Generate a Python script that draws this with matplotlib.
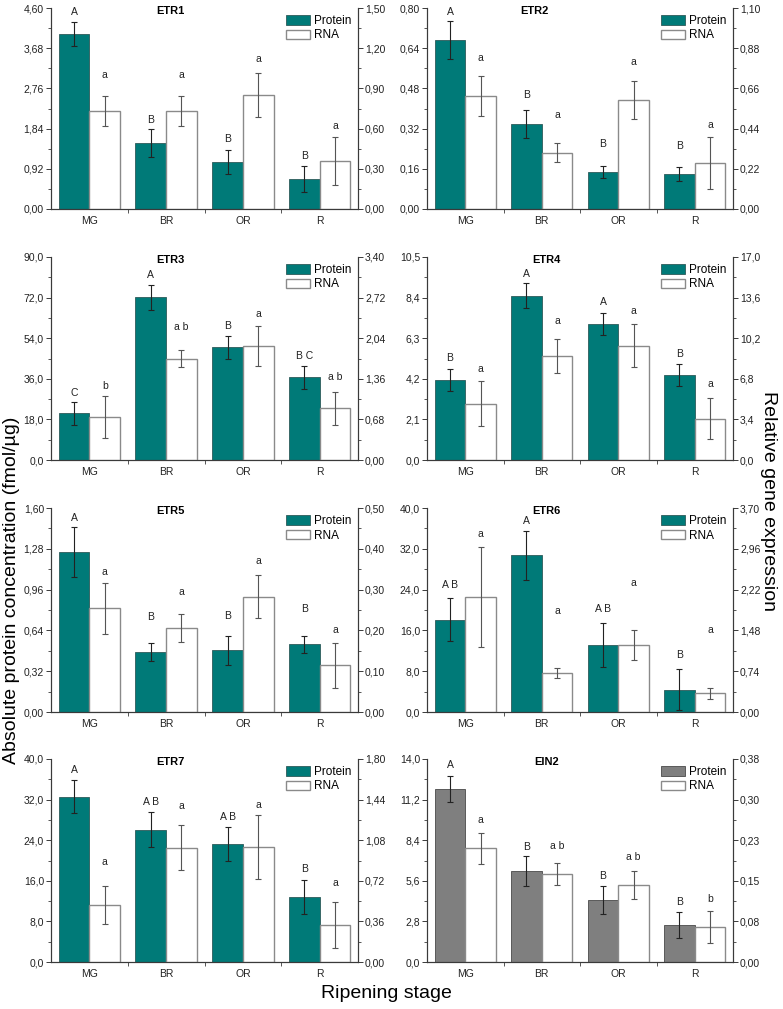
import numpy as np
import matplotlib
matplotlib.use('Agg')
from matplotlib import pyplot as plt
from matplotlib.patches import Patch
from matplotlib.ticker import FixedLocator, FuncFormatter

plt.rcParams['font.family'] = ['Liberation Sans', 'DejaVu Sans']

stages = ['MG', 'BR', 'OR', 'R']
genes = ['ETR1', 'ETR2', 'ETR3', 'ETR4', 'ETR5', 'ETR6', 'ETR7', 'EIN2']

# absolute protein concentration (fmol/ug), mean and error
protein_mean = {
    'ETR1': [4.00, 1.51, 1.08, 0.69],
    'ETR2': [0.673, 0.339, 0.147, 0.139],
    'ETR3': [20.7, 72.2, 50.0, 36.6],
    'ETR4': [4.15, 8.50, 7.01, 4.39],
    'ETR5': [1.254, 0.470, 0.483, 0.532],
    'ETR6': [18.1, 30.7, 13.1, 4.4],
    'ETR7': [32.6, 26.1, 23.3, 12.8],
    'EIN2': [11.93, 6.28, 4.30, 2.55],
}
protein_err = {
    'ETR1': [0.27, 0.32, 0.27, 0.30],
    'ETR2': [0.074, 0.057, 0.025, 0.028],
    'ETR3': [5.2, 5.6, 5.0, 5.0],
    'ETR4': [0.57, 0.63, 0.57, 0.57],
    'ETR5': [0.196, 0.068, 0.112, 0.068],
    'ETR6': [4.2, 4.8, 4.3, 4.1],
    'ETR7': [3.3, 3.5, 3.3, 3.3],
    'EIN2': [0.92, 1.05, 0.96, 0.90],
}
# relative gene expression, mean and error
rna_mean = {
    'ETR1': [0.731, 0.731, 0.851, 0.356],
    'ETR2': [0.619, 0.309, 0.599, 0.250],
    'ETR3': [0.716, 1.70, 1.907, 0.867],
    'ETR4': [4.72, 8.74, 9.58, 3.46],
    'ETR5': [0.254, 0.205, 0.283, 0.114],
    'ETR6': [2.085, 0.701, 1.213, 0.341],
    'ETR7': [0.508, 1.014, 1.020, 0.328],
    'EIN2': [0.2128, 0.1647, 0.144, 0.0655],
}
rna_err = {
    'ETR1': [0.112, 0.112, 0.167, 0.18],
    'ETR2': [0.109, 0.05, 0.104, 0.143],
    'ETR3': [0.35, 0.14, 0.335, 0.28],
    'ETR4': [1.88, 1.43, 1.83, 1.71],
    'ETR5': [0.062, 0.034, 0.052, 0.056],
    'ETR6': [0.90, 0.09, 0.27, 0.10],
    'ETR7': [0.17, 0.20, 0.28, 0.20],
    'EIN2': [0.029, 0.021, 0.027, 0.030],
}
# significance letters and the height they sit at
protein_letters = {
    'ETR1': ['A', 'B', 'B', 'B'],
    'ETR2': ['A', 'B', 'B', 'B'],
    'ETR3': ['C', 'A', 'B', 'B C'],
    'ETR4': ['B', 'A', 'A', 'B'],
    'ETR5': ['A', 'B', 'B', 'B'],
    'ETR6': ['A B', 'A', 'A B', 'B'],
    'ETR7': ['A', 'A B', 'A B', 'B'],
    'EIN2': ['A', 'B', 'B', 'B'],
}
rna_letters = {
    'ETR1': ['a', 'a', 'a', 'a'],
    'ETR2': ['a', 'a', 'a', 'a'],
    'ETR3': ['b', 'a b', 'a', 'a b'],
    'ETR4': ['a', 'a', 'a', 'a'],
    'ETR5': ['a', 'a', 'a', 'a'],
    'ETR6': ['a', 'a', 'a', 'a'],
    'ETR7': ['a', 'a', 'a', 'a'],
    'EIN2': ['a', 'a b', 'a b', 'b'],
}
protein_letter_y = {
    'ETR1': [4.50, 2.04, 1.60, 1.205],
    'ETR2': [0.784, 0.454, 0.259, 0.251],
    'ETR3': [29.9, 82.2, 59.5, 45.9],
    'ETR4': [5.28, 9.63, 8.16, 5.50],
    'ETR5': [1.521, 0.742, 0.753, 0.805],
    'ETR6': [25.0, 37.4, 20.1, 11.2],
    'ETR7': [37.9, 31.5, 28.6, 18.3],
    'EIN2': [13.56, 7.91, 5.95, 4.16],
}
rna_letter_y = {
    'ETR1': [1.00, 1.00, 1.12, 0.622],
    'ETR2': [0.824, 0.514, 0.804, 0.457],
    'ETR3': [1.24, 2.226, 2.449, 1.398],
    'ETR4': [7.64, 11.63, 12.45, 6.35],
    'ETR5': [0.343, 0.295, 0.370, 0.202],
    'ETR6': [3.23, 1.83, 2.34, 1.48],
    'ETR7': [0.884, 1.386, 1.392, 0.700],
    'EIN2': [0.266, 0.217, 0.1966, 0.1186],
}
left_max = {'ETR1': 4.6, 'ETR2': 0.8, 'ETR3': 90, 'ETR4': 10.5,
            'ETR5': 1.6, 'ETR6': 40, 'ETR7': 40, 'EIN2': 14}
right_max = {'ETR1': 1.5, 'ETR2': 1.1, 'ETR3': 3.4, 'ETR4': 17,
             'ETR5': 0.5, 'ETR6': 3.7, 'ETR7': 1.8, 'EIN2': 0.38}
left_dec = {'ETR1': 2, 'ETR2': 2, 'ETR3': 1, 'ETR4': 1,
            'ETR5': 2, 'ETR6': 1, 'ETR7': 1, 'EIN2': 1}
right_dec = {'ETR1': 2, 'ETR2': 2, 'ETR3': 2, 'ETR4': 1,
             'ETR5': 2, 'ETR6': 2, 'ETR7': 2, 'EIN2': 2}

TEAL = '#007a78'
GREY = '#7f7f7f'
AXIS_COLOR = '#3a3a3a'

W, H = 783, 1009
col_left = [51, 427]
col_right = [358, 733]
row_top = [8, 257, 508, 759]
row_bottom = [209, 460, 712, 962]
# ETR2's title sits a little further left than the others
title_x = {'ETR2': 0.35}


def comma_formatter(dec):
    return FuncFormatter(lambda v, pos: f'{v:.{dec}f}'.replace('.', ','))


def style_axis(ax, ymax, dec):
    ax.set_ylim(0, ymax)
    ax.yaxis.set_major_locator(FixedLocator(np.linspace(0, ymax, 6)))
    ax.yaxis.set_minor_locator(FixedLocator(np.linspace(0, ymax, 11)))
    ax.yaxis.set_major_formatter(comma_formatter(dec))
    ax.tick_params(axis='y', which='major', direction='out', length=3.5, width=0.7,
                   labelsize=7.5, pad=1.5, color=AXIS_COLOR, labelcolor='#222222')
    ax.tick_params(axis='y', which='minor', direction='out', length=2, width=0.6,
                   color=AXIS_COLOR)
    for s in ax.spines.values():
        s.set_color(AXIS_COLOR)
        s.set_linewidth(0.8)
    ax.spines['top'].set_visible(False)


def draw_panel(fig, idx, gene):
    row, col = divmod(idx, 2)
    x0 = col_left[col] / W
    w = (col_right[col] - col_left[col]) / W
    y0 = 1 - row_bottom[row] / H
    h = (row_bottom[row] - row_top[row]) / H
    ax = fig.add_axes([x0, y0, w, h])
    ax2 = ax.twinx()

    x = np.arange(len(stages))
    bw = 0.4
    pcolor = GREY if gene == 'EIN2' else TEAL
    pedge = '#4a4a4a' if gene == 'EIN2' else '#2d5a5a'

    ax.bar(x - bw / 2, protein_mean[gene], bw, color=pcolor, edgecolor=pedge, linewidth=0.6)
    ax.errorbar(x - bw / 2, protein_mean[gene], yerr=protein_err[gene], fmt='none',
                ecolor='#222222', elinewidth=0.8, capsize=2, capthick=0.8)
    ax2.bar(x + bw / 2, rna_mean[gene], bw, color='white', edgecolor='#8a8a8a', linewidth=1.0)
    ax2.errorbar(x + bw / 2, rna_mean[gene], yerr=rna_err[gene], fmt='none',
                 ecolor='#555555', elinewidth=0.8, capsize=2, capthick=0.8)

    for i in range(len(stages)):
        ax.text(x[i] - bw / 2, protein_letter_y[gene][i], protein_letters[gene][i],
                ha='center', va='center', fontsize=7.5, color='#222222')
        ax2.text(x[i] + bw / 2, rna_letter_y[gene][i], rna_letters[gene][i],
                 ha='center', va='center', fontsize=7.5, color='#222222')

    ax.set_xlim(-0.5, 3.5)
    ax.set_xticks(x)
    ax.set_xticklabels(stages)
    ax.set_xticks([0.5, 1.5, 2.5], minor=True)
    ax.tick_params(axis='x', which='major', length=0, labelsize=7.5, pad=5,
                   labelcolor='#222222')
    ax.tick_params(axis='x', which='minor', direction='out', length=3, width=0.6,
                   color=AXIS_COLOR)

    style_axis(ax, left_max[gene], left_dec[gene])
    style_axis(ax2, right_max[gene], right_dec[gene])

    ax2.text(title_x.get(gene, 0.39), 0.985, gene, transform=ax2.transAxes,
             ha='center', va='center', fontsize=8, fontweight='bold')

    handles = [Patch(facecolor=pcolor, edgecolor=pedge, linewidth=0.6, label='Protein'),
               Patch(facecolor='white', edgecolor='#8a8a8a', linewidth=1.0, label='RNA')]
    ax2.legend(handles=handles, loc='upper right', bbox_to_anchor=(0.978, 0.965),
               frameon=False, fontsize=8.5, handlelength=2.0, handleheight=0.85,
               handletextpad=0.35, labelspacing=0.2, borderpad=0.0, borderaxespad=0.0)


def main():
    fig = plt.figure(figsize=(W / 100, H / 100), dpi=100)
    for i, g in enumerate(genes):
        draw_panel(fig, i, g)

    fig.text(12 / W, 1 - 590 / H, 'Absolute protein concentration (fmol/µg)',
             rotation=90, ha='center', va='center', fontsize=14)
    fig.text(768 / W, 1 - 501 / H, 'Relative gene expression',
             rotation=270, ha='center', va='center', fontsize=14)
    fig.text(386 / W, 1 - 994 / H, 'Ripening stage', ha='center', va='center', fontsize=14)

    fig.savefig('out.png', dpi=100)
    plt.close(fig)


if __name__ == '__main__':
    main()
